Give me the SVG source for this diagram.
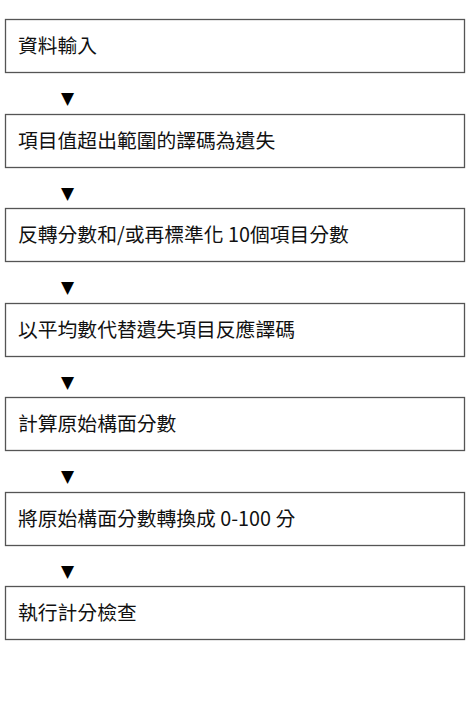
<svg xmlns="http://www.w3.org/2000/svg" width="472" height="718" viewBox="0 0 472 718">
<style>
.box{fill:#fff;stroke:#555;stroke-width:1.3}
.lbl{font-family:"Noto Sans CJK TC","Noto Sans CJK SC",sans-serif;font-size:19.8px;fill:#111}
.arr{font-family:"DejaVu Sans",sans-serif;font-size:17px;fill:#000;text-anchor:middle}
</style>
<rect width="472" height="718" fill="#fff"/>
<g id="n1"><rect class="box" x="5.5" y="19.5" width="459" height="53"/><text class="lbl" x="18" y="52.5">資料輸入</text></g>
<g id="n2"><rect class="box" x="5.5" y="114.5" width="459" height="53"/><text class="lbl" x="18" y="147.5">項目值超出範圍的譯碼為遺失</text></g>
<g id="n3"><rect class="box" x="5.5" y="208.5" width="459" height="53"/><text class="lbl" x="18" y="241.5">反轉分數和/或再標準化 10個項目分數</text></g>
<g id="n4"><rect class="box" x="5.5" y="303.5" width="459" height="53"/><text class="lbl" x="18" y="336.5">以平均數代替遺失項目反應譯碼</text></g>
<g id="n5"><rect class="box" x="5.5" y="397.5" width="459" height="53"/><text class="lbl" x="18" y="430.5">計算原始構面分數</text></g>
<g id="n6"><rect class="box" x="5.5" y="492.5" width="459" height="53"/><text class="lbl" x="18" y="525.5">將原始構面分數轉換成 0-100 分</text></g>
<g id="n7"><rect class="box" x="5.5" y="586.5" width="459" height="53"/><text class="lbl" x="18" y="619.5">執行計分檢查</text></g>
<g id="connectors">
<text class="arr" x="67.5" y="104">▼</text>
<text class="arr" x="67.5" y="198.5">▼</text>
<text class="arr" x="67.5" y="293">▼</text>
<text class="arr" x="67.5" y="387.5">▼</text>
<text class="arr" x="67.5" y="482">▼</text>
<text class="arr" x="67.5" y="576.5">▼</text>
</g>
</svg>
